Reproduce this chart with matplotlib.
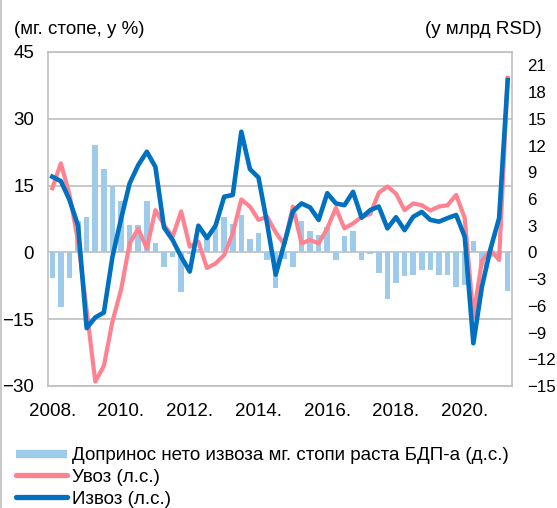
import matplotlib
matplotlib.use('Agg')
from matplotlib import pyplot as plt
from matplotlib.lines import Line2D
import numpy as np

plt.rcParams['font.family'] = ['Liberation Sans', 'DejaVu Sans']
plt.rcParams['font.size'] = 13.5

# quarters 2008 Q1 .. 2021 Q2
quarters = [f'{y}Q{q}' for y in range(2008, 2022) for q in range(1, 5)][:54]

# contribution of net exports to y/y GDP growth (right axis, bn RSD)
net_exports = [-2.9, -6.1, -2.9, 3.5, 4.0, 12.1, 9.4, 7.4, 5.8, 3.1,
               3.1, 5.8, 1.0, -1.6, -0.5, -4.5, -0.2, 0.4, 1.5, 2.7,
               4.0, 3.2, 4.2, 1.5, 2.2, -0.9, -4.0, -0.7, -1.6, 3.5,
               2.4, 2.0, 2.8, -0.9, 1.8, 2.4, -0.9, -0.2, -2.3, -5.2,
               -3.4, -2.7, -2.5, -2.0, -2.0, -2.5, -2.5, -3.9, -3.7, 1.3,
               -1.5, -0.5, -0.3, -4.3]

# imports y/y, % (left axis)
imports = [14.4, 20.0, 13.0, 2.5, -13.0, -29.0, -25.5, -15.5, -8.4, 2.0,
           5.3, 0.9, 9.5, 6.2, 3.5, 9.2, 1.3, 2.4, -3.5, -2.5,
           -0.6, 4.3, 11.9, 10.3, 7.3, 8.0, 4.5, 1.8, 10.3, 2.0,
           2.8, 2.0, 5.4, 10.0, 5.4, 6.5, 8.0, 8.6, 13.4, 14.8,
           13.2, 9.5, 11.0, 10.6, 9.4, 10.3, 10.6, 12.9, 7.7, -14.4,
           -1.9, 0.5, -1.7, 39.2]

# exports y/y, % (left axis)
exports = [17.0, 16.0, 11.8, 6.0, -17.0, -14.6, -13.5, -1.0, 7.5, 15.5,
           19.6, 22.6, 19.2, 5.6, 2.8, -1.0, -4.3, 6.0, 3.2, 6.0,
           12.5, 12.9, 27.1, 18.7, 16.8, 6.5, -5.0, 2.0, 9.2, 11.0,
           10.1, 7.3, 13.3, 11.0, 10.6, 13.6, 7.8, 9.5, 10.3, 5.4,
           7.9, 5.0, 8.0, 9.1, 7.3, 6.9, 7.7, 8.4, 3.5, -20.4,
           -7.7, 0.8, 7.7, 38.7]

year_labels = ['2008.', '2010.', '2012.', '2014.', '2016.', '2018.', '2020.']
left_ticks = [-30, -15, 0, 15, 30, 45]
right_ticks = [-15, -12, -9, -6, -3, 0, 3, 6, 9, 12, 15, 18, 21]

c_bar = '#9fcbea'
c_imp = '#ff8290'
c_exp = '#0070c0'
c_grid = '#bfbfbf'

x = np.arange(len(quarters))

fig = plt.figure(figsize=(5.57, 5.08), dpi=100)
ax = fig.add_axes([48/557, 1-386/508, 464/557, 334/508])
ax.set_ylim(-30, 45)
ax.set_xlim(-0.5, len(quarters) - 0.5)
ax.set_yticks(left_ticks)
ax.yaxis.grid(True, color=c_grid, lw=1.2)
ax.set_axisbelow(True)
for s in ax.spines.values():
    s.set_color(c_grid)
    s.set_linewidth(1.2)
ax.tick_params(axis='y', length=0, pad=10)
# one label every 8 quarters (every second year)
ax.set_xticks(x[::8])
ax.set_xticklabels(year_labels)
ax.tick_params(axis='x', length=0, pad=12)

# bars on right scale
axb = ax.twinx()
axb.set_ylim(-15, 22.5)
axb.set_yticks(right_ticks)
axb.tick_params(axis='y', length=0, pad=11, labelsize=12.2)
axb.bar(x, net_exports, width=0.65, color=c_bar)
for s in axb.spines.values():
    s.set_visible(False)

# lines on left scale
axl = ax.twinx()
axl.set_ylim(-30, 45)
axl.set_yticks([])
for s in axl.spines.values():
    s.set_visible(False)
axl.plot(x, imports, color=c_imp, lw=3.0, solid_joinstyle='round')
axl.plot(x, exports, color=c_exp, lw=3.3, solid_joinstyle='round')
axl.set_xlim(-0.5, len(quarters) - 0.5)

fig.text(14/557, 1-30/508, '(мг. стопе, у %)', ha='left', va='center')
fig.text(542/557, 1-30/508, '(у млрд RSD)', ha='right', va='center')

handles = [Line2D([], [], color=c_bar, lw=6, solid_capstyle='butt'),
           Line2D([], [], color=c_imp, lw=3.8, solid_capstyle='round'),
           Line2D([], [], color=c_exp, lw=3.8, solid_capstyle='round')]
labels = ['Допринос нето извоза мг. стопи раста БДП-а (д.с.)',
          'Увоз (л.с.)', 'Извоз (л.с.)']
fig.legend(handles, labels, loc='upper left', bbox_to_anchor=(16/557, 1-447/508),
           frameon=False, borderpad=0, borderaxespad=0, handlelength=2.7,
           handletextpad=0.3, labelspacing=0.25)

fig.add_artist(Line2D([0.002, 0.002], [0, 1], color=c_grid, lw=1.2))

fig.savefig('out.png', dpi=100)
